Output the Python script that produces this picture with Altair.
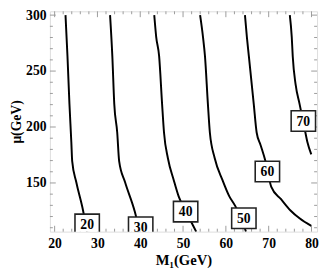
import altair as alt
import pandas as pd

# contour lines (M1 in GeV, mu in GeV)
c20_x = [22.54, 23.0, 23.46, 23.9, 24.1, 25.05, 26.65, 27.56]
c20_y = [300.0, 263.3, 220.7, 186.6, 169.6, 150.8, 125.2, 106.5]
c30_x = [32.95, 33.48, 33.93, 34.62, 35.07, 36.44, 38.72, 39.86]
c30_y = [300.0, 263.3, 220.7, 195.1, 169.6, 150.8, 124.4, 106.5]
c40_x = [43.27, 43.73, 44.41, 45.1, 45.55, 46.46, 47.83, 48.97, 50.56, 52.39, 53.07]
c40_y = [300.0, 280.4, 263.3, 220.7, 195.1, 172.1, 152.5, 138.0, 125.2, 111.6, 106.5]
c50_x = [53.98, 54.66, 55.12, 55.8, 56.26, 57.4, 59.22, 60.81, 62.18, 63.77, 64.69]
c50_y = [300.0, 280.4, 263.3, 220.7, 195.1, 172.1, 152.5, 138.0, 129.5, 116.7, 106.5]
c60_x = [64.46, 64.91, 65.37, 66.51, 67.19, 68.1, 69.24, 70.61, 72.89, 75.16, 77.21, 79.95]
c60_y = [300.0, 280.4, 263.3, 220.7, 195.1, 184.0, 169.6, 146.5, 135.5, 125.2, 118.4, 111.6]
c70_x = [74.94, 75.39, 75.62, 76.3, 77.21, 78.35, 79.04, 79.95]
c70_y = [300.0, 280.4, 263.3, 237.8, 220.7, 199.4, 186.6, 175.5]

levels = ["20", "30", "40", "50", "60", "70"]
label_x = [27.6, 40.1, 50.6, 64.2, 69.7, 78.1]
label_y = [113.0, 110.5, 124.4, 118.4, 160.2, 205.4]

x_major = [20, 30, 40, 50, 60, 70, 80]
x_minor = [v for v in range(20, 82, 2) if v % 10 != 0]
y_major = [150, 200, 250, 300]
y_minor = [v for v in range(110, 301, 10) if v % 50 != 0]

XDOM = [18.9, 81.3]
YDOM = [106.5, 303.4]
W, H = 274, 226

rows = []
for lev, xs, ys in zip(levels, [c20_x, c30_x, c40_x, c50_x, c60_x, c70_x],
                       [c20_y, c30_y, c40_y, c50_y, c60_y, c70_y]):
    for a, b in zip(xs, ys):
        rows.append({"level": lev, "m1": a, "mu": b})
lines_df = pd.DataFrame(rows)
labels_df = pd.DataFrame({"level": levels, "m1": label_x, "mu": label_y})

FONT = "Liberation Serif"
xs = alt.Scale(domain=XDOM, nice=False, zero=False)
ys = alt.Scale(domain=YDOM, nice=False, zero=False)
GRAY = "#9a9a9a"

lines = alt.Chart(lines_df).mark_line(color="black", strokeWidth=2, interpolate="monotone", clip=True).encode(
    x=alt.X("m1:Q", scale=xs,
            axis=alt.Axis(values=x_major, title="M₁(GeV)", titleFont=FONT, titleFontSize=15,
                          titleFontWeight="bold", titlePadding=3, labelFont=FONT, labelFontSize=14,
                          labelFontWeight="bold", labelColor="black", domain=False, ticks=False,
                          grid=False, labelPadding=5, labelFlush=False)),
    y=alt.Y("mu:Q", scale=ys,
            axis=alt.Axis(values=y_major, title="μ(GeV)", titleFont=FONT, titleFontSize=14,
                          titleFontWeight="bold", titlePadding=2, labelFont=FONT, labelFontSize=14,
                          labelFontWeight="bold", labelColor="black", domain=False, ticks=False,
                          grid=False, labelPadding=4, labelFlush=False)),
    detail="level:N",
    order="m1:Q",
)

boxes = alt.Chart(labels_df).mark_rect(width=25, height=21, fill="white", stroke="#222222",
                                       strokeWidth=1.6, clip=True).encode(
    x=alt.X("m1:Q", scale=xs), y=alt.Y("mu:Q", scale=ys))
texts = alt.Chart(labels_df).mark_text(font=FONT, fontSize=14, fontWeight="bold", color="black",
                                       clip=True, baseline="middle", align="center", dy=1).encode(
    x=alt.X("m1:Q", scale=xs), y=alt.Y("mu:Q", scale=ys), text="level:N")

def xticks(vals, length):
    df = pd.DataFrame({"v": vals})
    bot = alt.Chart(df).mark_rule(color=GRAY, strokeWidth=1).encode(
        x=alt.X("v:Q", scale=xs), y=alt.value(H), y2=alt.value(H - length))
    top = alt.Chart(df).mark_rule(color=GRAY, strokeWidth=1).encode(
        x=alt.X("v:Q", scale=xs), y=alt.value(0), y2=alt.value(length))
    return bot + top

def yticks(vals, length):
    df = pd.DataFrame({"v": vals})
    left = alt.Chart(df).mark_rule(color=GRAY, strokeWidth=1).encode(
        y=alt.Y("v:Q", scale=ys), x=alt.value(0), x2=alt.value(length))
    right = alt.Chart(df).mark_rule(color=GRAY, strokeWidth=1).encode(
        y=alt.Y("v:Q", scale=ys), x=alt.value(W), x2=alt.value(W - length))
    return left + right

chart = alt.layer(
    xticks(x_major, 6), xticks(x_minor, 3), yticks(y_major, 6), yticks(y_minor, 3),
    lines, boxes, texts
).properties(
    width=W, height=H,
    autosize=alt.AutoSizeParams(type="none"),
    padding={"left": 43, "top": 0, "right": 2, "bottom": 38},
).configure_view(stroke=GRAY, strokeWidth=1.2).configure(background="white")

chart.save("out.html", embed_options={"renderer": "svg", "actions": False})
